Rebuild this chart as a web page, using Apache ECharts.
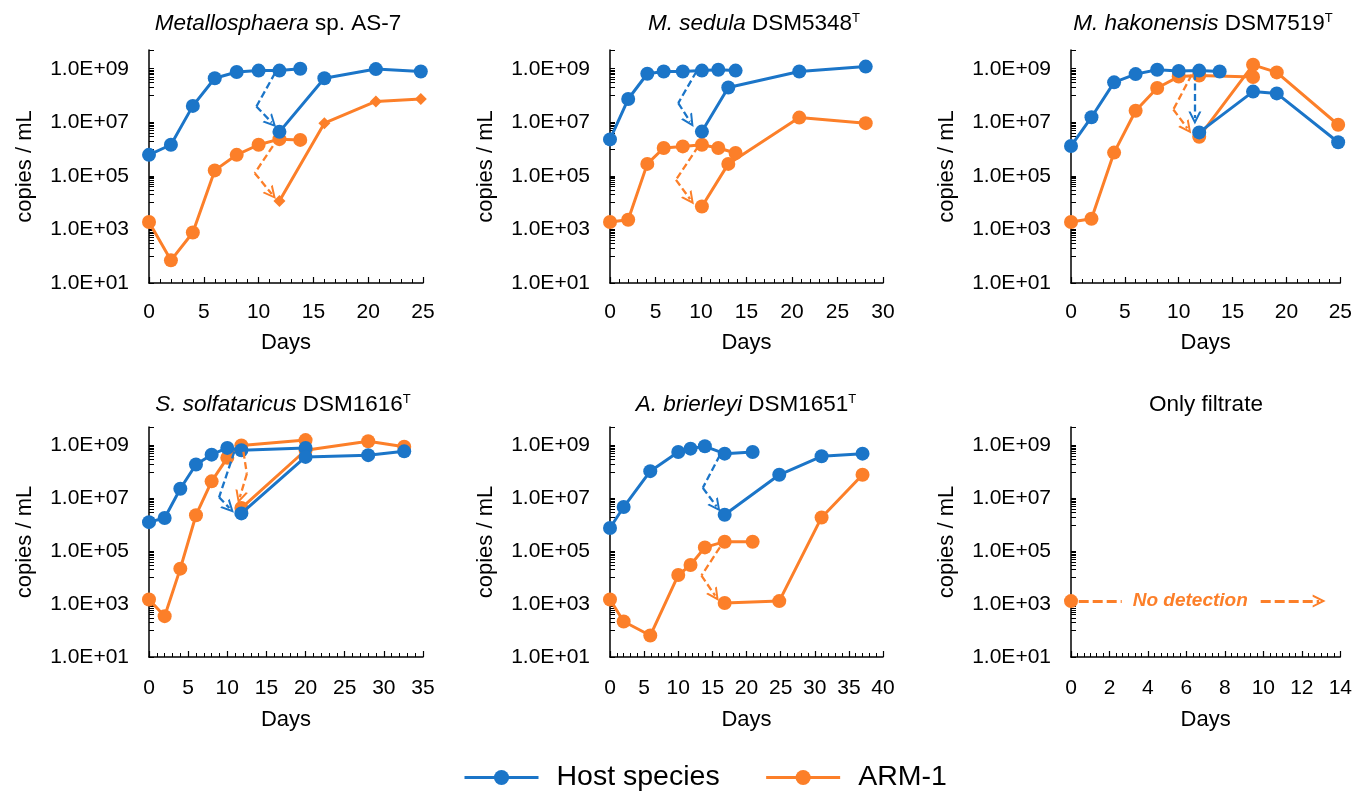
<!DOCTYPE html>
<html><head><meta charset="utf-8">
<script src="https://cdn.jsdelivr.net/npm/echarts@6/dist/echarts.min.js"></script>
<style>html,body{margin:0;padding:0;background:#fff}#c{width:1355px;height:796px}</style>
</head><body><div id="c"></div>
<script>
const BLUE = '#1B75C8', ORANGE = '#FC7F29';
const FONT = '"Liberation Sans", Arial, Helvetica, sans-serif';

// ---------- titles ----------
const titles = [
  '{i|Metallosphaera} sp. AS-7',
  '{i|M. sedula} DSM5348{sup|T}',
  '{i|M. hakonensis} DSM7519{sup|T}',
  '{i|S. solfataricus} DSM1616{sup|T}',
  '{i|A. brierleyi} DSM1651{sup|T}',
  'Only filtrate'
];
const xMaxes = [25, 30, 25, 35, 40, 14];
const xIntervals = [5, 5, 5, 5, 5, 2];
const xMinorSplits = [5, 5, 5, 5, 5, 6];
const yLabelValues = [10, 1e3, 1e5, 1e7, 1e9];
const yLabelTexts = ['1.0E+01', '1.0E+03', '1.0E+05', '1.0E+07', '1.0E+09'];

// ---------- Panel 1: Metallosphaera sp. AS-7 ----------
const p1HostDays1 = [0, 2.0, 4.0, 6.0, 8.0, 10.0, 11.9, 13.8];
const p1HostVals1 = [6.1e5, 1.45e6, 4.1e7, 4.4e8, 7.5e8, 8.5e8, 8.5e8, 1.0e9];
const p1HostDays2 = [11.9, 16.0, 20.7, 24.8];
const p1HostVals2 = [4.4e6, 4.4e8, 9.7e8, 7.9e8];
const p1ArmDays1 = [0, 2.0, 4.0, 6.0, 8.0, 10.0, 11.9, 13.8];
const p1ArmVals1 = [1.9e3, 70, 7.7e2, 1.6e5, 6.1e5, 1.45e6, 2.35e6, 2.2e6];
const p1ArmDays2 = [11.9, 16.0, 20.7, 24.8];
const p1ArmVals2 = [1.15e4, 9.3e6, 6.0e7, 7.4e7];
const p1HostArrow = [[11.5, 6.9e8], [9.8, 3.9e7], [11.2, 9.8e6]];
const p1ArmArrow = [[11.3, 1.3e6], [9.65, 1.26e5], [11.2, 2.1e4]];

// ---------- Panel 2: M. sedula ----------
const p2HostDays1 = [0, 2.0, 4.1, 5.9, 8.0, 10.1, 11.9, 13.8];
const p2HostVals1 = [2.3e6, 7.4e7, 6.5e8, 7.9e8, 7.9e8, 8.5e8, 9.1e8, 8.5e8];
const p2HostDays2 = [10.1, 13.0, 20.8, 28.1];
const p2HostVals2 = [4.5e6, 2.0e8, 7.9e8, 1.2e9];
const p2ArmDays1 = [0, 2.0, 4.1, 5.9, 8.0, 10.1, 11.9, 13.8];
const p2ArmVals1 = [1.9e3, 2.3e3, 2.8e5, 1.1e6, 1.26e6, 1.45e6, 1.1e6, 7.1e5];
const p2ArmDays2 = [10.1, 13.0, 20.8, 28.1];
const p2ArmVals2 = [7.2e3, 2.8e5, 1.5e7, 9.3e6];
const p2HostArrow = [[9.5, 7.9e8], [7.5, 5.2e7], [8.8, 1.07e7]];
const p2ArmArrow = [[9.7, 1.26e6], [7.25, 7.1e4], [8.8, 1.35e4]];

// ---------- Panel 3: M. hakonensis ----------
const p3HostDays1 = [0, 1.9, 4.0, 6.0, 8.0, 10.0, 11.9, 13.8];
const p3HostVals1 = [1.3e6, 1.55e7, 3.1e8, 6.3e8, 9.1e8, 8.3e8, 8.5e8, 7.9e8];
const p3HostDays2 = [11.9, 16.9, 19.1, 24.8];
const p3HostVals2 = [4.2e6, 1.4e8, 1.2e8, 1.8e6];
const p3ArmDays1 = [0, 1.9, 4.0, 6.0, 8.0, 10.0, 11.9, 16.9];
const p3ArmVals1 = [1.9e3, 2.5e3, 7.4e5, 2.7e7, 1.9e8, 5.1e8, 5.6e8, 4.9e8];
const p3ArmDays2 = [11.9, 16.9, 19.1, 24.8];
const p3ArmVals2 = [2.9e6, 1.4e9, 7.3e8, 8.1e6];
const p3HostArrow = [[11.5, 6.9e8], [11.5, 1.45e7]];
const p3ArmArrow = [[11.2, 5.9e8], [9.5, 3.0e7], [10.8, 6.0e6]];

// ---------- Panel 4: S. solfataricus ----------
const p4HostDays1 = [0, 2.0, 4.0, 6.0, 8.0, 10.0, 11.8, 20.0];
const p4HostVals1 = [1.26e6, 1.8e6, 2.3e7, 1.9e8, 4.5e8, 8.1e8, 6.6e8, 8.1e8];
const p4HostDays2 = [11.8, 20.0, 28.0, 32.6];
const p4HostVals2 = [2.7e6, 3.7e8, 4.3e8, 6.0e8];
const p4ArmDays1 = [0, 2.0, 4.0, 6.0, 8.0, 10.0, 11.8, 20.0];
const p4ArmVals1 = [1.5e3, 3.5e2, 2.2e4, 2.3e6, 4.4e7, 3.4e8, 1.0e9, 1.6e9];
const p4ArmDays2 = [11.8, 20.0, 28.0, 32.6];
const p4ArmVals2 = [4.3e6, 6.6e8, 1.45e9, 8.9e8];
const p4HostArrow = [[10.9, 5.8e8], [8.95, 1.1e7], [10.27, 4.3e6]];
const p4ArmArrow = [[12.06, 5.8e8], [12.5, 8.5e7], [11.6, 1.1e7]];

// ---------- Panel 5: A. brierleyi ----------
const p5HostDays1 = [0, 2.0, 5.9, 10.0, 11.8, 13.9, 16.8, 20.9];
const p5HostVals1 = [7.6e5, 4.7e6, 1.07e8, 5.7e8, 7.6e8, 9.3e8, 4.9e8, 5.7e8];
const p5HostDays2 = [16.8, 24.8, 31.0, 37.0];
const p5HostVals2 = [2.4e6, 7.8e7, 3.9e8, 4.9e8];
const p5ArmDays1 = [0, 2.0, 5.9, 10.0, 11.8, 13.9, 16.8, 20.9];
const p5ArmVals1 = [1.5e3, 2.2e2, 65, 1.26e4, 3.0e4, 1.4e5, 2.3e5, 2.3e5];
const p5ArmDays2 = [16.8, 24.8, 31.0, 37.0];
const p5ArmVals2 = [1.1e3, 1.3e3, 1.9e6, 7.8e7];
const p5HostArrow = [[16.1, 4.3e8], [13.6, 2.5e7], [15.6, 5.0e6]];
const p5ArmArrow = [[16.1, 1.4e5], [13.4, 1.2e4], [15.4, 2.1e3]];

// ---------- Panel 6: Only filtrate ----------
const p6ArmDays = [0];
const p6ArmVals = [1.3e3];
const p6ArmArrow = [[0.4, 1.3e3], [12.9, 1.3e3]];
const p6NoteDay = 6.2, p6NoteVal = 1.3e3, p6NoteText = 'No detection';

// ---------- layout ----------
const gridBoxes = [
  {left: 149, top: 50, width: 274, height: 233},
  {left: 610, top: 50, width: 273, height: 233},
  {left: 1071, top: 50, width: 273, height: 233},
  {left: 149, top: 427, width: 274, height: 230},
  {left: 610, top: 427, width: 273, height: 230},
  {left: 1071, top: 427, width: 273, height: 230}
];
const titleCenters = [[278, 12], [754, 12], [1203, 12], [283, 393], [746, 393], [1206, 393]];

const yTickValues = [];
[1, 3, 5, 7].forEach(e => {
  yTickValues.push(Math.pow(10, e));
  for (let k = 1; k <= 9; k++) yTickValues.push(k * Math.pow(10, e + 1));
});
yTickValues.push(1e9, 5e9);

const zip = (a, b) => a.map((d, i) => [d, b[i]]);
const chevron = 'path://M0,10 L5,0 L10,10 L8.3,10 L5,3.4 L1.7,10 Z';

const series = [];
function addLine(name, color, days, vals, gi, symbol, size, z) {
  series.push({
    name, type: 'line', xAxisIndex: gi, yAxisIndex: gi,
    data: zip(days, vals), symbol, symbolSize: size, showSymbol: true,
    lineStyle: {color, width: 3}, itemStyle: {color}, z, animation: false,
    emphasis: {disabled: true}
  });
}
function addArrow(color, pts, gi, dash, width) {
  const body = [];
  for (let i = 0; i < pts.length - 2; i++) body.push({coords: [pts[i], pts[i + 1]]});
  const tip = [{coords: [pts[pts.length - 2], pts[pts.length - 1]]}];
  const common = {
    type: 'lines', coordinateSystem: 'cartesian2d', xAxisIndex: gi, yAxisIndex: gi,
    lineStyle: {color, width, type: dash, opacity: 1}, z: 5, silent: true, animation: false
  };
  if (body.length) series.push(Object.assign({}, common, {data: body, symbol: ['none', 'none']}));
  series.push(Object.assign({}, common, {data: tip, symbol: ['none', chevron], symbolSize: [17, 13]}));
}

const panels = [
  [p1HostDays1, p1HostVals1, p1HostDays2, p1HostVals2, p1ArmDays1, p1ArmVals1, p1ArmDays2, p1ArmVals2, p1HostArrow, p1ArmArrow],
  [p2HostDays1, p2HostVals1, p2HostDays2, p2HostVals2, p2ArmDays1, p2ArmVals1, p2ArmDays2, p2ArmVals2, p2HostArrow, p2ArmArrow],
  [p3HostDays1, p3HostVals1, p3HostDays2, p3HostVals2, p3ArmDays1, p3ArmVals1, p3ArmDays2, p3ArmVals2, p3HostArrow, p3ArmArrow],
  [p4HostDays1, p4HostVals1, p4HostDays2, p4HostVals2, p4ArmDays1, p4ArmVals1, p4ArmDays2, p4ArmVals2, p4HostArrow, p4ArmArrow],
  [p5HostDays1, p5HostVals1, p5HostDays2, p5HostVals2, p5ArmDays1, p5ArmVals1, p5ArmDays2, p5ArmVals2, p5HostArrow, p5ArmArrow]
];
panels.forEach((p, gi) => {
  addLine('ARM-1', ORANGE, p[4], p[5], gi, 'circle', 14, 2);
  addLine('ARM-1', ORANGE, p[6], p[7], gi, gi === 0 ? 'diamond' : 'circle', gi === 0 ? 12 : 14, 2);
  addLine('Host species', BLUE, p[0], p[1], gi, 'circle', 14, 3);
  addLine('Host species', BLUE, p[2], p[3], gi, 'circle', 14, 3);
  addArrow(BLUE, p[8], gi, [7, 3.5], 2.3);
  addArrow(ORANGE, p[9], gi, [7, 3.5], 2.3);
});
addLine('ARM-1', ORANGE, p6ArmDays, p6ArmVals, 5, 'circle', 14, 3);
addArrow(ORANGE, p6ArmArrow, 5, [10, 4], 2.8);
series.push({
  type: 'scatter', xAxisIndex: 5, yAxisIndex: 5, data: [[p6NoteDay, p6NoteVal]],
  symbolSize: 0, itemStyle: {color: ORANGE, opacity: 1}, z: 10, silent: true, animation: false,
  label: {show: true, position: 'inside', formatter: p6NoteText, color: ORANGE, opacity: 1,
    textBorderWidth: 0, fontFamily: FONT, fontSize: 19, fontWeight: 'bold', fontStyle: 'italic',
    backgroundColor: '#fff', padding: [2, 11]}
});

const grid = gridBoxes.map(b => Object.assign({containLabel: false}, b));
const xAxis = gridBoxes.map((b, i) => ({
  type: 'value', gridIndex: i, min: 0, max: xMaxes[i], interval: xIntervals[i],
  name: 'Days', nameLocation: 'middle', nameGap: i < 3 ? 49 : 52,
  nameTextStyle: {fontFamily: FONT, fontSize: 22, color: '#000'},
  axisLine: {show: true, onZero: false, lineStyle: {color: '#000', width: 1.5}},
  axisTick: {show: true, inside: true, length: 6, lineStyle: {color: '#000', width: 1.2}},
  minorTick: {show: true, splitNumber: xMinorSplits[i], length: 4, lineStyle: {color: '#000', width: 1}},
  splitLine: {show: false}, minorSplitLine: {show: false},
  axisLabel: {fontFamily: FONT, fontSize: 21, color: '#000', margin: i < 3 ? 19 : 21}
}));
const yAxis = gridBoxes.map((b, i) => ({
  type: 'log', logBase: 10, gridIndex: i, min: 10, max: 5e9,
  name: 'copies / mL', nameLocation: 'middle', nameRotate: 90, nameGap: 113,
  nameTextStyle: {fontFamily: FONT, fontSize: 22, color: '#000'},
  axisLine: {show: true, lineStyle: {color: '#000', width: 1.5}},
  axisTick: {show: true, inside: true, length: 5, customValues: yTickValues, lineStyle: {color: '#000', width: 1}},
  splitLine: {show: false},
  axisLabel: {fontFamily: FONT, fontSize: 21, color: '#000', margin: 20,
    formatter: v => {
      const idx = yLabelValues.findIndex(t => Math.abs(Math.log10(t) - Math.log10(v)) < 1e-6);
      return idx >= 0 ? yLabelTexts[idx] : '';
    }}
}));
const title = titles.map((t, i) => ({
  text: t, left: titleCenters[i][0], top: titleCenters[i][1], textAlign: 'center', padding: 0,
  textStyle: {fontFamily: FONT, fontSize: 22.5, fontWeight: 'normal', color: '#000',
    rich: {i: {fontFamily: FONT, fontSize: 22.5, fontStyle: 'italic', color: '#000'},
           sup: {fontFamily: FONT, fontSize: 13, verticalAlign: 'top', color: '#000'}}}
}));

const chart = echarts.init(document.getElementById('c'), null, {renderer: 'canvas'});
chart.setOption({
  backgroundColor: '#fff',
  animation: false,
  title, grid, xAxis, yAxis, series,
  legend: {
    data: ['Host species', 'ARM-1'], left: 463, top: 763, padding: 0,
    itemWidth: 74, itemHeight: 19, itemGap: 45,
    lineStyle: {width: 3},
    textStyle: {fontFamily: FONT, fontSize: 28.5, color: '#000', padding: [0, 0, 0, 13]},
    selectedMode: false
  }
});
</script></body></html>
